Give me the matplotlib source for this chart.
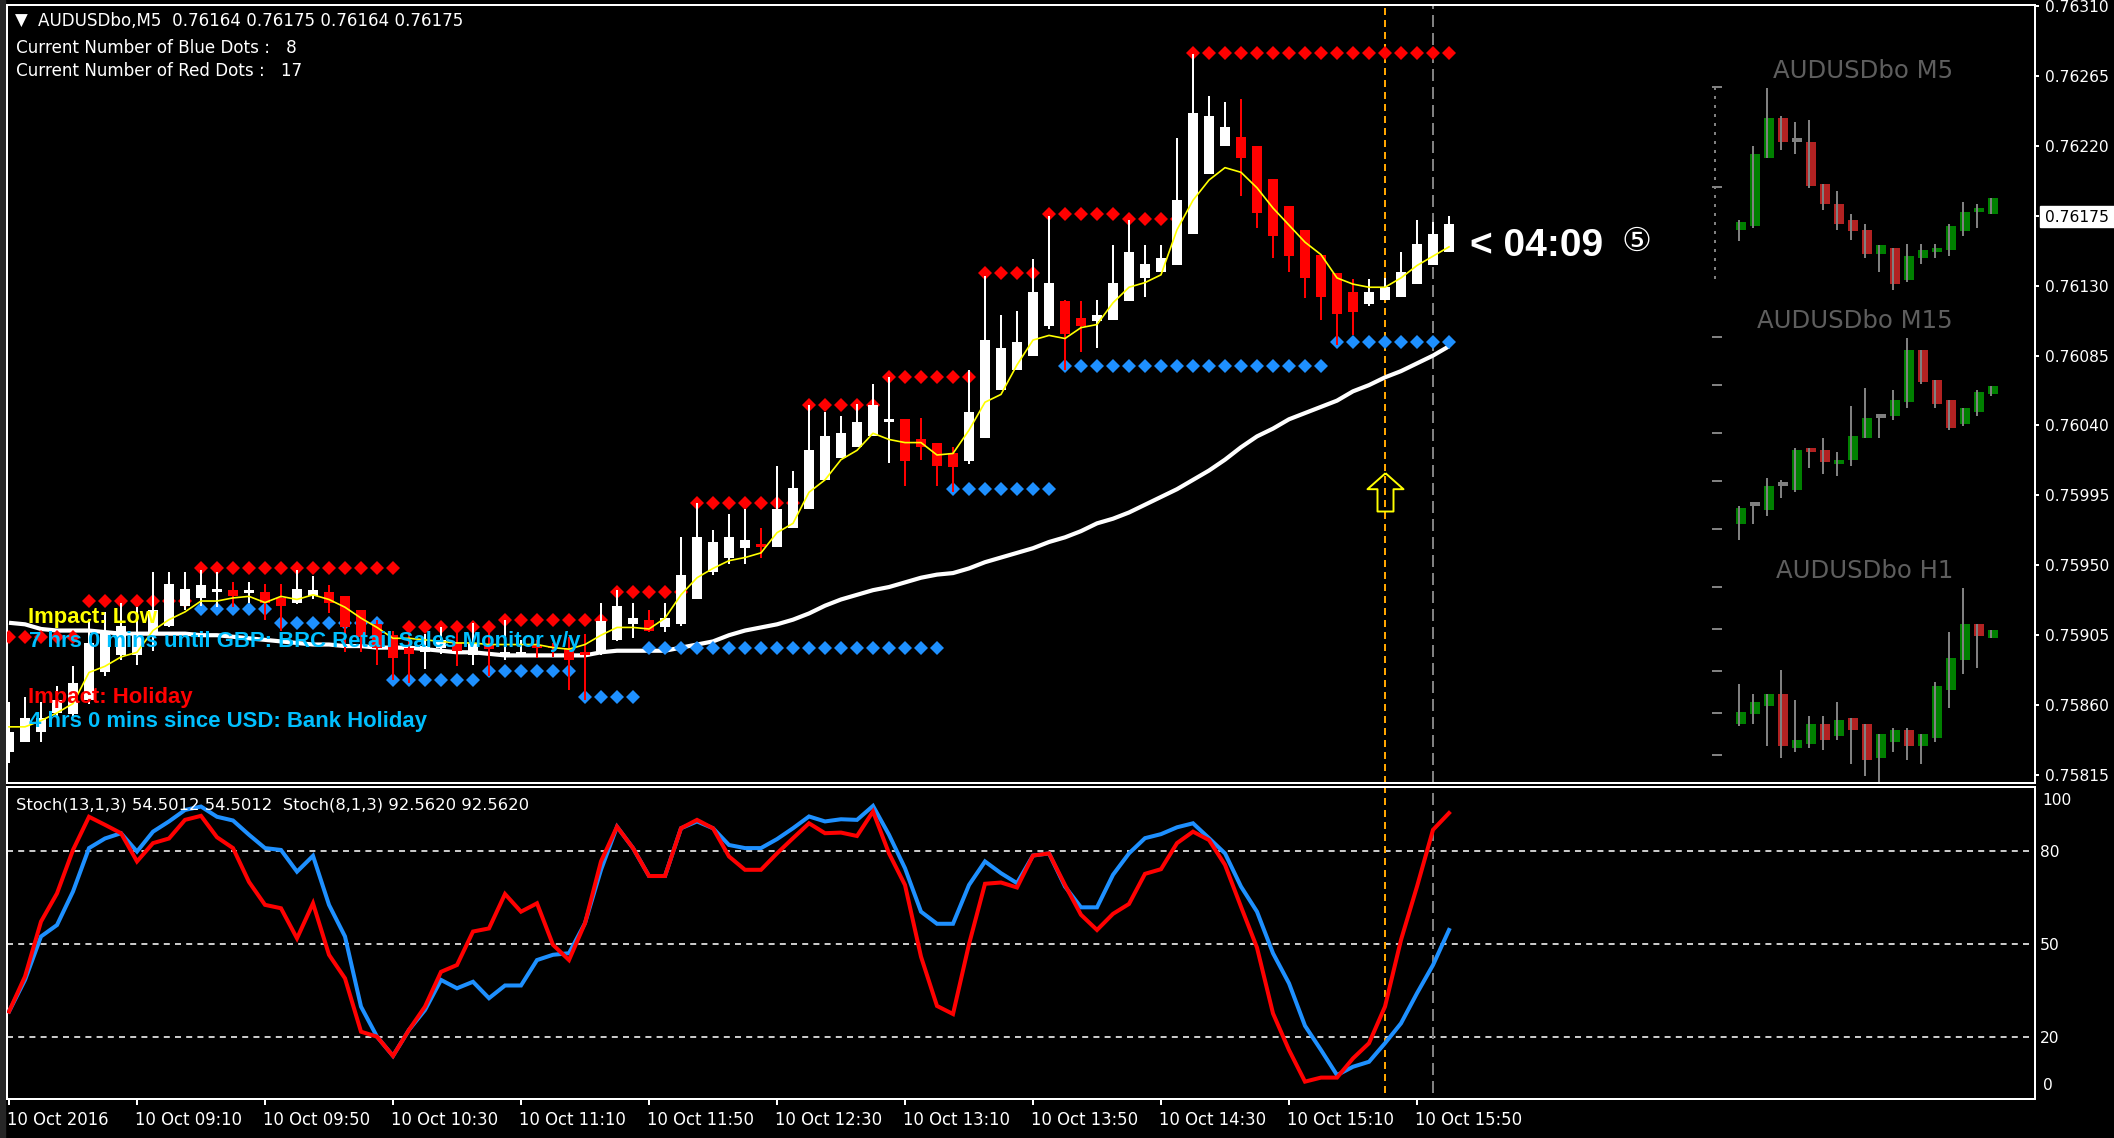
import matplotlib
matplotlib.use('Agg')
import matplotlib.pyplot as plt
from matplotlib.patches import Rectangle
from matplotlib.transforms import ScaledTranslation, blended_transform_factory
import numpy as np

W, H = 2114, 1138

# M5 candles, prices in points (0.76175 -> 76175)
opens = [75830, 75836, 75843, 75855, 75854, 75863, 75881, 75892, 75892, 75906, 75911, 75924, 75929, 75933, 75934, 75932,
         75933, 75929, 75926, 75930, 75933, 75930, 75921, 75912, 75905, 75897, 75894, 75897, 75900, 75892, 75899, 75891,
         75892, 75899, 75898, 75897, 75894, 75894, 75902, 75912, 75915, 75910, 75912, 75928, 75946, 75955, 75961, 75964,
         75962, 75974, 75986, 76005, 76019, 76026, 76033, 76042, 76044, 76031, 76029, 76022, 76017, 76032, 76063, 76076,
         76085, 76104, 76120, 76109, 76107, 76108, 76120, 76135, 76139, 76143, 76163, 76202, 76220, 76226, 76220, 76199,
         76181, 76166, 76150, 76138, 76126, 76118, 76121, 76123, 76131, 76143, 76152]
highs = [75862, 75865, 75862, 75872, 75885, 75914, 75920, 75926, 75923, 75946, 75946, 75946, 75947, 75946, 75939, 75939,
         75938, 75938, 75947, 75943, 75937, 75930, 75921, 75915, 75908, 75908, 75906, 75910, 75910, 75913, 75913, 75915,
         75902, 75902, 75900, 75904, 75906, 75926, 75934, 75926, 75921, 75926, 75968, 75990, 75973, 75983, 75986, 75974,
         76014, 76011, 76053, 76049, 76046, 76054, 76067, 76071, 76044, 76045, 76029, 76026, 76076, 76136, 76111, 76114,
         76147, 76175, 76121, 76120, 76121, 76156, 76172, 76156, 76156, 76225, 76279, 76252, 76248, 76250, 76220, 76199,
         76181, 76166, 76150, 76138, 76134, 76134, 76135, 76152, 76172, 76171, 76175]
lows = [75823, 75836, 75836, 75852, 75853, 75861, 75879, 75889, 75886, 75895, 75910, 75921, 75924, 75923, 75923, 75926,
        75915, 75908, 75925, 75928, 75919, 75894, 75894, 75886, 75876, 75874, 75883, 75893, 75885, 75886, 75879, 75889,
        75891, 75890, 75891, 75870, 75863, 75892, 75901, 75903, 75907, 75907, 75911, 75928, 75944, 75951, 75951, 75955,
        75962, 75974, 75986, 76005, 76019, 76026, 76033, 76016, 76001, 76018, 76001, 75997, 76015, 76032, 76063, 76076,
        76085, 76102, 76076, 76087, 76090, 76108, 76120, 76123, 76139, 76143, 76163, 76202, 76220, 76188, 76167, 76148,
        76139, 76122, 76108, 76092, 76098, 76117, 76121, 76123, 76131, 76143, 76152]
closes = [75843, 75852, 75852, 75863, 75874, 75900, 75908, 75911, 75905, 75921, 75938, 75935, 75937, 75935, 75930, 75934,
          75926, 75924, 75935, 75934, 75926, 75910, 75904, 75897, 75890, 75893, 75898, 75902, 75895, 75900, 75896, 75894,
          75894, 75897, 75897, 75889, 75892, 75914, 75924, 75916, 75908, 75916, 75944, 75968, 75965, 75968, 75966, 75962,
          75986, 76000, 76024, 76033, 76035, 76042, 76053, 76044, 76017, 76026, 76014, 76013, 76049, 76095, 76090, 76094,
          76126, 76132, 76099, 76104, 76111, 76132, 76152, 76144, 76148, 76185, 76241, 76239, 76232, 76212, 76177, 76162,
          76149, 76135, 76123, 76112, 76113, 76126, 76129, 76139, 76157, 76163, 76170]

yellow_ma = [75846, 75846, 75850, 75855, 75861, 75881, 75885, 75891, 75894, 75908, 75915, 75920, 75927, 75927, 75929, 75930,
             75926, 75930, 75928, 75931, 75928, 75923, 75916, 75910, 75903, 75903, 75902, 75901, 75900, 75900, 75899, 75899,
             75899, 75899, 75897, 75896, 75899, 75905, 75910, 75910, 75909, 75916, 75931, 75942, 75948, 75953, 75955, 75958,
             75971, 75977, 75997, 76005, 76018, 76024, 76035, 76031, 76029, 76029, 76021, 76022, 76037, 76055, 76060, 76079,
             76095, 76098, 76096, 76103, 76105, 76119, 76129, 76132, 76137, 76166, 76185, 76198, 76206, 76203, 76193, 76180,
             76169, 76158, 76150, 76135, 76131, 76129, 76129, 76135, 76143, 76149, 76155]
white_ma = [75913, 75912, 75909, 75908, 75908, 75908, 75907, 75906, 75906, 75906, 75906, 75906, 75905, 75905, 75904, 75903,
            75902, 75901, 75900, 75899, 75899, 75898, 75898, 75897, 75897, 75897, 75896, 75895, 75894, 75894, 75893, 75892,
            75892, 75892, 75892, 75892, 75892, 75894, 75895, 75895, 75895, 75895, 75897, 75899, 75901, 75905, 75908, 75910,
            75912, 75915, 75919, 75924, 75928, 75931, 75934, 75936, 75939, 75942, 75944, 75945, 75948, 75952, 75955, 75958,
            75961, 75965, 75968, 75972, 75977, 75980, 75984, 75989, 75994, 75999, 76005, 76011, 76018, 76026, 76033, 76038,
            76044, 76048, 76052, 76056, 76062, 76066, 76071, 76075, 76080, 76085, 76091]

# runs of dots: first bar, last bar, level
red_first = [0, 5, 12, 25, 31, 38, 43, 50, 55, 61, 65, 70, 74]
red_last = [4, 11, 24, 30, 37, 42, 49, 54, 60, 64, 69, 73, 90]
red_level = [75904, 75927, 75948, 75910, 75915, 75933, 75990, 76053, 76071, 76138, 76176, 76173, 76280]
blue_first = [12, 17, 24, 30, 36, 40, 59, 66, 83]
blue_last = [16, 23, 29, 35, 39, 58, 65, 82, 90]
blue_level = [75922, 75913, 75876, 75882, 75865, 75897, 75999, 76078, 76094]

stoch_blue = [28.2, 38.4, 52.4, 56.1, 66.9, 80.9, 84, 85.7, 79.8, 86.2, 89.5, 93.2, 94.3, 91, 89.8, 85.2,
              80.9, 80.3, 73.3, 78.4, 62.6, 52.4, 29.8, 20.1, 13.9, 22.3, 28.7, 38.4, 35.7, 37.8, 32.5, 36.6,
              36.6, 44.8, 46.5, 47, 56.7, 73.9, 87.8, 80.9, 71.9, 71.9, 87.3, 89.5, 87.3, 81.9, 80.9, 80.9,
              83.8, 87.3, 91.1, 89.5, 90.2, 90, 94.5, 85.2, 74.4, 60.4, 56.5, 56.5, 69, 76.6, 72.8, 69.6,
              78.5, 79.2, 68.5, 61.8, 61.8, 72.3, 79.2, 84.1, 85.4, 87.6, 88.9, 84.1, 79.2, 68.5, 60.4, 47,
              37.3, 23.6, 15.8, 7.7, 10.4, 12, 18, 24.4, 34.1, 43.2, 54.5]
stoch_red = [28.2, 39.5, 57.2, 66.3, 80.3, 91, 88.4, 85.7, 76.6, 82.5, 84, 90, 91.3, 84.4, 80.9, 70,
             62.6, 61.5, 51.8, 63.1, 46.5, 38.9, 21.7, 20.1, 13.9, 22.3, 29.8, 41, 43.2, 54, 55, 66.1,
             60.4, 63.1, 49.7, 44.8, 56.7, 76.6, 87.8, 80.9, 71.9, 71.9, 87.3, 90, 87.3, 78.2, 73.9, 73.9,
             79.2, 84.1, 88.9, 85.7, 85.9, 84.8, 92.7, 79.2, 69, 45.9, 30, 27.4, 49.9, 69.4, 69.8, 68.2,
             78.5, 79.2, 69, 59.4, 54.5, 59.7, 62.9, 72.6, 74.1, 82.5, 86.2, 83.5, 75.5, 62, 48.8, 27.6,
             15.8, 5.6, 6.9, 6.9, 13.1, 18, 29.8, 51.3, 68.5, 86.8, 92.2]

price_ticks = [76310, 76265, 76220, 76175, 76130, 76085, 76040, 75995, 75950, 75905, 75860, 75815]
current_price = 76175
stoch_ticks = [0, 20, 50, 80, 100]
stoch_levels = [20, 50, 80]
time_ticks = list(range(0, 89, 8))
time_labels = ['10 Oct 2016', '10 Oct 09:10', '10 Oct 09:50', '10 Oct 10:30', '10 Oct 11:10', '10 Oct 11:50',
               '10 Oct 12:30', '10 Oct 13:10', '10 Oct 13:50', '10 Oct 14:30', '10 Oct 15:10', '10 Oct 15:50']
orange_bar, grey_bar = 86, 89
arrow_bar, arrow_price = 86, 75997

# small charts on the right, 19 bars each
m5_open = [76147, 76151, 76214, 76251, 76229, 76229, 76190, 76171, 76157, 76147, 76125, 76131, 76101, 76121, 76127, 76129, 76146, 76164, 76162]
m5_high = [76157, 76225, 76279, 76253, 76247, 76249, 76190, 76183, 76162, 76153, 76133, 76131, 76134, 76134, 76134, 76153, 76173, 76171, 76177]
m5_low = [76137, 76149, 76214, 76221, 76218, 76186, 76166, 76147, 76138, 76121, 76108, 76092, 76099, 76116, 76121, 76123, 76142, 76149, 76162]
m5_close = [76155, 76218, 76251, 76229, 76229, 76188, 76171, 76153, 76146, 76125, 76133, 76097, 76123, 76129, 76131, 76151, 76164, 76168, 76177]
m5_ticks = [76280, 76187]
m15_open = [75968, 75995, 75989, 76025, 76019, 76082, 76079, 76058, 76064, 76097, 76127, 76130, 76151, 76229, 76184, 76154, 76118, 76136, 76163]
m15_high = [75995, 75995, 76037, 76034, 76082, 76082, 76097, 76076, 76145, 76172, 76133, 76169, 76247, 76229, 76184, 76154, 76142, 76169, 76175]
m15_low = [75944, 75968, 75980, 76007, 76016, 76052, 76043, 76040, 76055, 76097, 76097, 76124, 76142, 76178, 76142, 76109, 76115, 76130, 76160]
m15_close = [75992, 75995, 76025, 76025, 76079, 76076, 76061, 76064, 76100, 76127, 76127, 76154, 76229, 76181, 76148, 76112, 76142, 76166, 76175]
m15_ticks = [76249, 76177, 76105, 76033, 75961]
h1_open = [75893, 75923, 75947, 75983, 75821, 75833, 75893, 75857, 75911, 75893, 75791, 75839, 75875, 75827, 75851, 75995, 76085, 76193, 76151]
h1_high = [76013, 75983, 75983, 76055, 75965, 75917, 75917, 75959, 75911, 75893, 75863, 75881, 75881, 75863, 76019, 76169, 76301, 76193, 76175]
h1_low = [75887, 75893, 75827, 75791, 75809, 75821, 75815, 75845, 75773, 75737, 75719, 75809, 75785, 75773, 75839, 75941, 76043, 76061, 76151]
h1_close = [75929, 75959, 75983, 75827, 75845, 75893, 75845, 75905, 75875, 75785, 75863, 75875, 75827, 75863, 76007, 76091, 76193, 76157, 76175]
h1_ticks = [76304, 76178, 76052, 75926, 75800]


def px_axes(x0, y0, x1, y1, **kw):
    return fig.add_axes([x0 / W, 1 - y1 / H, (x1 - x0) / W, (y1 - y0) / H], **kw)


def px_text(x, y, s, **kw):
    kw.setdefault('va', 'center')
    kw.setdefault('zorder', 20)
    fig.text(x / W, 1 - y / H, s, **kw)


def draw_mini(ax, o, h, l, c, ticks, ylim):
    o, h, l, c = map(np.array, (o, h, l, c))
    x = np.arange(len(o))
    ax.set_xlim(-2.714, 19.57)
    ax.set_ylim(*ylim)
    ax.axis('off')
    colors = ['#008000' if b >= a else '#B22222' for a, b in zip(o, c)]
    colors = ['#808080' if a == b else col for a, b, col in zip(o, c, colors)]
    heights = np.maximum(np.abs(c - o), (ylim[1] - ylim[0]) / (ax.bbox.height) * 4)
    bottoms = np.minimum(o, c)
    ax.bar(x, heights, bottom=bottoms, width=0.714, color=colors, antialiased=False, zorder=2)
    ax.vlines(x - 0.143, l, h, color='#808080', lw=1.44, zorder=3)
    ax.hlines(ticks, -2.07, -1.36, color='#808080', lw=1.44)


plt.rcParams['font.family'] = 'DejaVu Sans'
fig = plt.figure(figsize=(W / 100, H / 100), dpi=100, facecolor='black')
fig.add_artist(Rectangle((0, 0), 5 / W, 1, transform=fig.transFigure, color='#262626', zorder=-1))

# main panel
ax = px_axes(7, 5, 2035, 783, facecolor='black')
x = np.arange(len(opens))
o, hi, lo, c = [np.array(v) / 1e5 for v in (opens, highs, lows, closes)]
ax.set_xlim(-0.125, 126.625)
ax.set_ylim(0.7580985, 0.7631070)

for b, col, dash in ((orange_bar, '#FFA500', (3.5, 2.5)), (grey_bar, '#808080', (6, 3))):
    ax.axvline(b, color=col, lw=1.44, ls=(0, dash), zorder=1)

ax.plot(x, np.array(white_ma) / 1e5, color='white', lw=3, zorder=2, solid_capstyle='butt')

for first, last, level in zip(red_first, red_last, red_level):
    ax.plot(np.arange(first, last + 1), [level / 1e5] * (last - first + 1), ls='none', marker='D', ms=7.6, mew=0, color='#FF0000', zorder=3)
for first, last, level in zip(blue_first, blue_last, blue_level):
    ax.plot(np.arange(first, last + 1), [level / 1e5] * (last - first + 1), ls='none', marker='D', ms=7.6, mew=0, color='#1E90FF', zorder=3)

colors = ['white' if b >= a else '#FF0000' for a, b in zip(opens, closes)]
ax.vlines(x, lo, hi, color=colors, lw=1.44, zorder=4)
ax.bar(x, np.maximum(np.abs(c - o), 0.00001), bottom=np.minimum(o, c), width=0.66, color=colors, antialiased=False, zorder=5)
ax.plot(x, np.array(yellow_ma) / 1e5, color='#FFFF00', lw=1.2, zorder=6)

arrow = [(0, 19.3), (18, 3.3), (8, 3.3), (8, -19), (-8, -19), (-8, 3.3), (-18, 3.3), (0, 19.3)]
ax.plot([arrow_bar], [arrow_price / 1e5], marker=arrow, ms=27.8, mfc='none', mec='#FFFF00', mew=1.4, ls='none', zorder=7)

ax.set_xticks([])
ax.yaxis.tick_right()
ax.set_yticks(np.array(price_ticks) / 1e5)
ax.set_yticklabels(['%.5f' % (p / 1e5) for p in price_ticks])
ax.tick_params(axis='y', colors='white', labelsize=11.2, length=3, width=1.44, pad=4.5)
for tick_label, p in zip(ax.get_yticklabels(), price_ticks):
    if p == current_price:
        tick_label.set_color('black')
        tick_label.set_zorder(30)
fig.add_artist(Rectangle((2040 / W, 1 - 227 / H), 74 / W, 21 / H, transform=fig.transFigure, color='white', zorder=-1))
for s in ax.spines.values():
    s.set_color('white')
    s.set_linewidth(1.44)

# stochastic panel
ax2 = px_axes(7, 787, 2035, 1099, facecolor='black')
ax2.set_xlim(-0.125, 126.625)
ax2.set_ylim(0, 100.6)
for level in stoch_levels:
    ax2.axhline(level, color='#C8C8C8', lw=1.44, ls=(0, (3, 2.6)), zorder=1)
for b, col, dash in ((orange_bar, '#FFA500', (3.5, 2.5)), (grey_bar, '#808080', (6, 3))):
    ax2.plot([b, b], [2, 100.6], color=col, lw=1.44, ls=(0, dash), zorder=1)
ax2.plot(x, stoch_blue, color='#1E90FF', lw=2.9, zorder=3, solid_joinstyle='miter')
ax2.plot(x, stoch_red, color='#FF0000', lw=2.9, zorder=4, solid_joinstyle='miter')
ax2.yaxis.tick_right()
ax2.set_yticks(stoch_ticks)
ax2.set_yticklabels(['', '20', '50', '80', ''])
ax2.tick_params(axis='y', colors='white', labelsize=11.2, length=0, pad=3.5)
trans = blended_transform_factory(ax2.transAxes, ax2.transData)
ax2.text(1.0037, 96.1, '100', color='white', fontsize=11.2, va='center', transform=trans)
ax2.text(1.0037, 4.5, '0', color='white', fontsize=11.2, va='center', transform=trans)
ax2.set_xticks(time_ticks)
ax2.set_xticklabels(time_labels, ha='left')
ax2.tick_params(axis='x', colors='white', labelsize=11.9, length=4, width=1.44, pad=4.5)
label_shift = ScaledTranslation(-0.02, 0, fig.dpi_scale_trans)
for tick_label in ax2.get_xticklabels():
    tick_label.set_transform(tick_label.get_transform() + label_shift)
for s in ax2.spines.values():
    s.set_color('white')
    s.set_linewidth(1.44)

# small charts
a5 = px_axes(1703, 70, 2015, 300)
a15 = px_axes(1703, 320, 2015, 560)
a1 = px_axes(1703, 560, 2015, 790)
draw_mini(a5, m5_open, m5_high, m5_low, m5_close, m5_ticks, (76082.5, 76295.5))
draw_mini(a15, m15_open, m15_high, m15_low, m15_close, m15_ticks, (75914, 76274))
draw_mini(a1, h1_open, h1_high, h1_low, h1_close, h1_ticks, (75695, 76385))
a5.plot([-1.86, -1.86], [m5_ticks[0], 76101], color='#808080', lw=1.44, ls=(0, (1.5, 3)))
for label, ypos in (('AUDUSDbo M5', 71), ('AUDUSDbo M15', 321), ('AUDUSDbo H1', 571)):
    px_text(1953, ypos, label, color='#5E5E5E', fontsize=17.6, ha='right', family='DejaVu Sans')

# header and overlay texts
px_text(15, 21, '\u25bc', color='white', fontsize=12)
px_text(38, 21, 'AUDUSDbo,M5  0.76164 0.76175 0.76164 0.76175', color='white', fontsize=12.1)
px_text(16, 48, 'Current Number of Blue Dots :   8', color='white', fontsize=12.1)
px_text(16, 71, 'Current Number of Red Dots :   17', color='white', fontsize=12.1)
px_text(16, 805, 'Stoch(13,1,3) 54.5012 54.5012  Stoch(8,1,3) 92.5620 92.5620', color='white', fontsize=11.8)
bold = dict(family='Liberation Sans', fontweight='bold', fontsize=15.9)
px_text(28, 618, 'Impact: Low', color='#FFFF00', **bold)
px_text(29, 641, '7 hrs 0 mins until GBP: BRC Retail Sales Monitor y/y', color='#00BFFF', **bold)
px_text(28, 698, 'Impact: Holiday', color='#FF0000', **bold)
px_text(29, 722, '4 hrs 0 mins since USD: Bank Holiday', color='#00BFFF', **bold)
px_text(1470, 246, '< 04:09', color='white', family='Liberation Sans', fontweight='bold', fontsize=28)
px_text(1636, 241, '\u2464', color='white', family=['DejaVu Sans', 'Noto Sans CJK SC'], fontsize=24, ha='center')

fig.savefig('out.png', dpi=100, facecolor='black')
